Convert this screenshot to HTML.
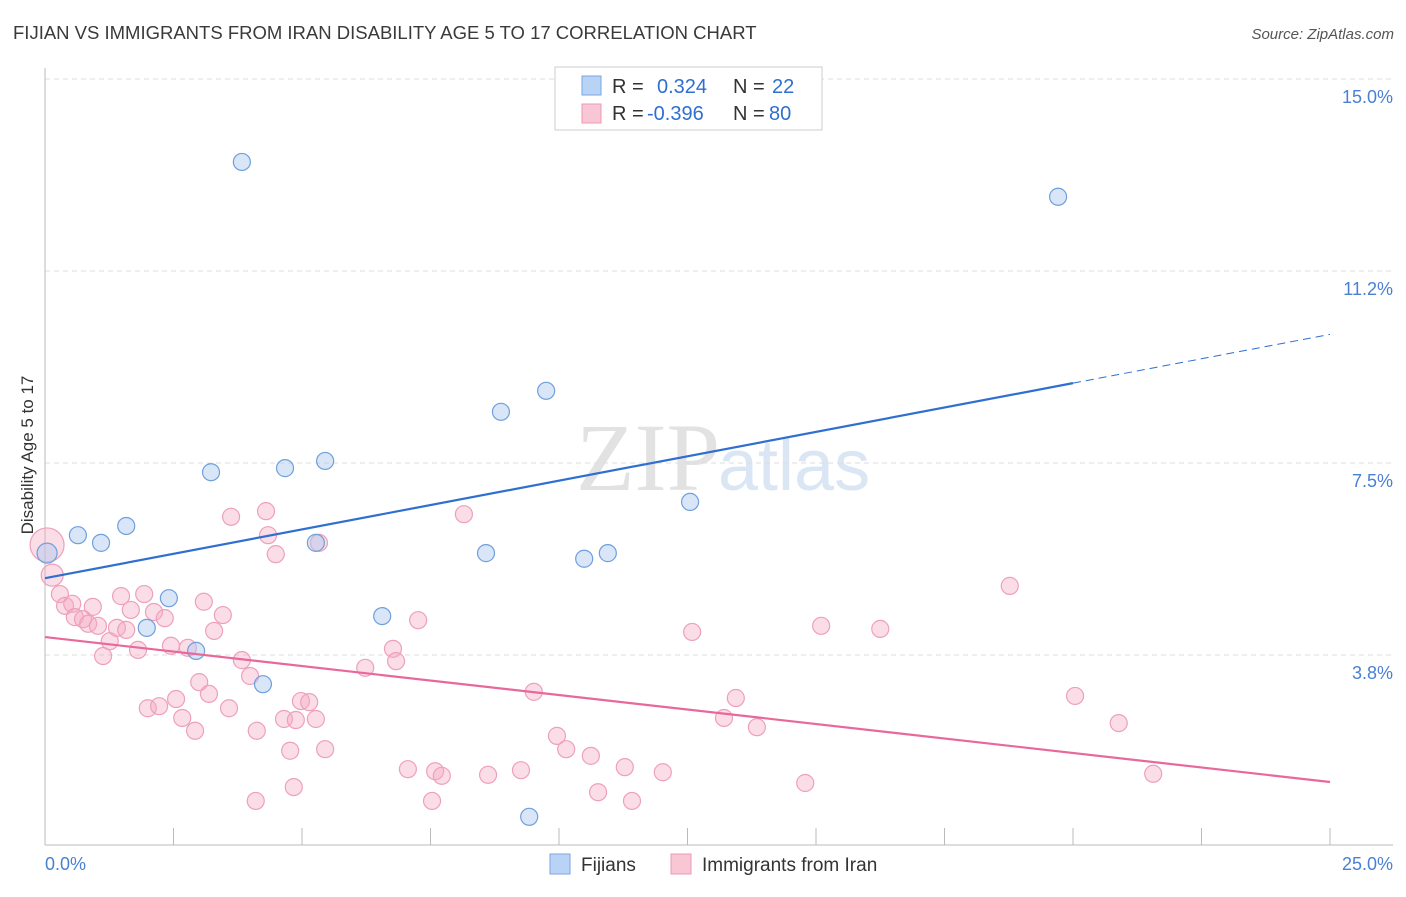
<!DOCTYPE html>
<html><head><meta charset="utf-8"><style>
body{margin:0;background:#fff;font-family:"Liberation Sans",sans-serif}
</style></head><body>
<svg id="c" width="1406" height="892" xmlns="http://www.w3.org/2000/svg">
<text x="13" y="39" font-size="18.5" fill="#3a3a3a">FIJIAN VS IMMIGRANTS FROM IRAN DISABILITY AGE 5 TO 17 CORRELATION CHART</text>
<text x="1394" y="39" font-size="15" fill="#555" font-style="italic" text-anchor="end">Source: ZipAtlas.com</text>
<text transform="translate(33,455) rotate(-90)" font-size="17" fill="#333" text-anchor="middle">Disability Age 5 to 17</text>
<text x="720" y="490" font-size="96" fill="#e2e2e2" text-anchor="end" font-family="Liberation Serif,serif">ZIP</text>
<text x="718" y="490" font-size="72" fill="#dbe6f5">atlas</text>
<g id="grid"></g><g id="pts"></g>
<rect x="555" y="67" width="267" height="63" fill="#fff" stroke="#ccc"/>
<rect x="582" y="76" width="19" height="19" fill="#b8d3f5" stroke="#7aa6e0"/>
<rect x="582" y="104" width="19" height="19" fill="#f9c6d6" stroke="#eb9ab4"/>
<text x="612" y="93" font-size="20" fill="#333">R = <tspan x="657" fill="#2f6fd0">0.324</tspan><tspan x="733" fill="#333">N = </tspan><tspan x="772" fill="#2f6fd0">22</tspan></text>
<text x="612" y="120" font-size="20" fill="#333">R = <tspan x="647" fill="#2f6fd0">-0.396</tspan><tspan x="733" fill="#333">N = </tspan><tspan x="769" fill="#2f6fd0">80</tspan></text>
<rect x="550" y="854" width="20" height="20" fill="#b8d3f5" stroke="#7aa6e0"/>
<text x="581" y="871" font-size="19" fill="#333">Fijians</text>
<rect x="671" y="854" width="20" height="20" fill="#f9c6d6" stroke="#eb9ab4"/>
<text x="702" y="871" font-size="19" fill="#333">Immigrants from Iran</text>
</svg>
<script>
const yTicks=[15.0,11.2,7.5,3.8];
const yTickPos=[15,11.25,7.5,3.75];
const xTickLabels=["0.0%","25.0%"];
const fijX=[0.04,0.64,1.09,1.58,2.41,1.98,2.94,3.83,3.23,4.67,5.45,4.24,5.27,6.56,8.87,9.75,8.58,10.49,10.95,12.55,9.42,19.71];
const fijY=[5.74,6.09,5.94,6.27,4.86,4.28,3.83,13.38,7.32,7.40,7.54,3.18,5.94,4.51,8.50,8.91,5.74,5.63,5.74,6.74,0.59,12.70];
const iranX=[0.04,0.14,0.29,0.39,0.53,0.58,0.74,0.84,0.93,1.03,1.13,1.26,1.40,1.48,1.58,1.67,1.81,1.93,2.00,2.12,2.22,2.33,2.45,2.55,2.67,2.78,2.92,3.00,3.09,3.19,3.29,3.46,3.58,3.62,3.83,3.99,4.12,4.10,4.30,4.34,4.49,4.65,4.77,4.84,4.88,4.98,5.14,5.27,5.33,5.45,6.23,6.77,6.83,7.26,7.06,7.53,7.59,7.72,8.15,8.62,9.26,9.51,9.96,10.14,10.62,10.76,11.28,11.42,12.02,12.59,13.21,13.44,13.85,14.79,15.10,16.25,18.77,20.04,20.89,21.56];
const iranY=[5.90,5.31,4.94,4.71,4.75,4.49,4.45,4.36,4.69,4.32,3.73,4.02,4.28,4.90,4.24,4.63,3.85,4.94,2.71,4.59,2.75,4.47,3.93,2.89,2.52,3.89,2.27,3.22,4.79,2.99,4.22,4.53,2.71,6.45,3.65,3.34,2.27,0.90,6.56,6.09,5.72,2.50,1.88,1.17,2.48,2.85,2.83,2.50,5.94,1.91,3.50,3.87,3.63,4.43,1.52,0.90,1.48,1.39,6.50,1.41,1.50,3.03,2.17,1.91,1.78,1.07,1.56,0.90,1.46,4.20,2.52,2.91,2.34,1.25,4.32,4.26,5.10,2.95,2.42,1.43];
const fijLine=[5.25,9.06]; // y at x=0 and x=20
const iranLine=[4.10,1.27]; // y at x=0 and x=25
const NS="http://www.w3.org/2000/svg";
const X=v=>45+v*51.4, Y=v=>847-v*51.2;
function mk(t,a,p){const e=document.createElementNS(NS,t);for(const k in a)e.setAttribute(k,a[k]);p.appendChild(e);return e;}
const g=document.getElementById('grid'), P=document.getElementById('pts');
yTicks.forEach((t,i)=>{
 const l=mk('line',{x1:45,x2:1393,y1:Y(yTickPos[i]),y2:Y(yTickPos[i]),stroke:'#ddd','stroke-dasharray':'5,4'},g);
 
 
 const tx=mk('text',{x:1393,y:Y(yTickPos[i])+24,'font-size':18,fill:'#4a80d4','text-anchor':'end'},g);
 tx.textContent=t.toFixed(1)+'%';
 
 
});
let ax=mk('line',{x1:45,x2:45,y1:68,y2:845,stroke:'#bbb'},g);


ax=mk('line',{x1:45,x2:1393,y1:845,y2:845,stroke:'#bbb'},g);


for(let i=1;i<=10;i++){
 const t=mk('line',{x1:X(i*2.5),x2:X(i*2.5),y1:828,y2:845,stroke:'#bbb'},g);
 
 
}
[[0,'start',45],[25,'end',1393]].forEach((d,i)=>{
 const t=mk('text',{x:d[2],y:870,'font-size':18,fill:'#4a80d4','text-anchor':d[1]},g);
 t.textContent=xTickLabels[i];
 
 
});
iranX.forEach((x,i)=>{
 const c=mk('circle',{cx:X(x),cy:Y(iranY[i]),r:i==0?17:(i==1?11:8.5),fill:'rgba(244,170,196,0.4)',stroke:'#eea0bb','stroke-width':1.2},P);
 
 
});
fijX.forEach((x,i)=>{
 const c=mk('circle',{cx:X(x),cy:Y(fijY[i]),r:i==0?10:8.5,fill:'rgba(170,200,240,0.45)',stroke:'#6f9fdc','stroke-width':1.2},P);
 
 
});
let l=mk('line',{x1:X(0),y1:Y(fijLine[0]),x2:X(20),y2:Y(fijLine[1]),stroke:'#2f6fd0','stroke-width':2.2},P);


const slope=(fijLine[1]-fijLine[0])/20;
l=mk('line',{x1:X(20),y1:Y(fijLine[1]),x2:X(25),y2:Y(fijLine[1]+slope*5),stroke:'#2f6fd0','stroke-width':1,'stroke-dasharray':'8,5'},P);


l=mk('line',{x1:X(0),y1:Y(iranLine[0]),x2:X(25),y2:Y(iranLine[1]),stroke:'#e8689a','stroke-width':2.2},P);


</script>
</body></html>
